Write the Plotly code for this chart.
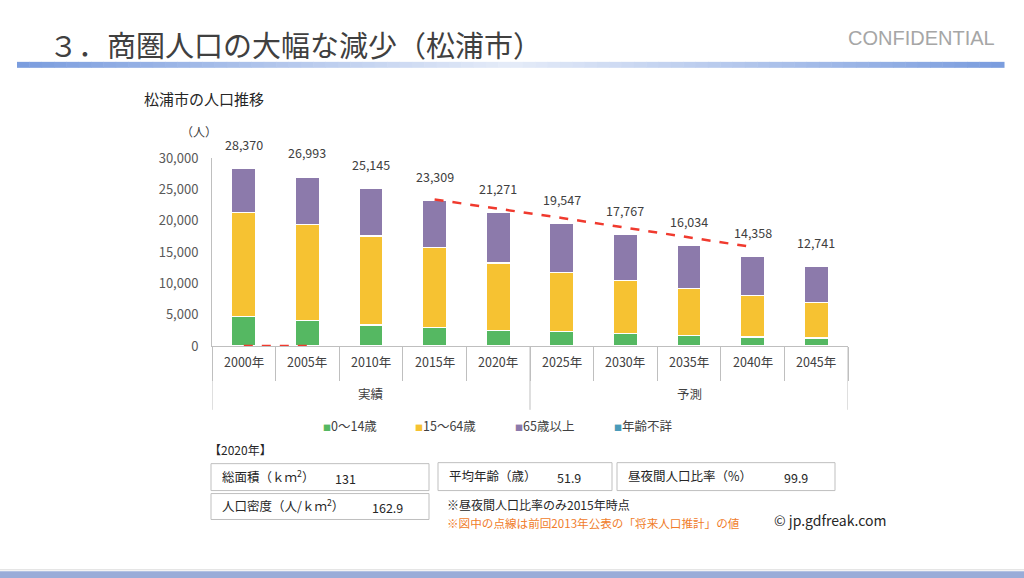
import plotly.graph_objects as go

# 松浦市の人口推移 (人)
years = ["2000年", "2005年", "2010年", "2015年", "2020年",
         "2025年", "2030年", "2035年", "2040年", "2045年"]
groups = ["実績", "予測"]
group_sizes = [5, 5]

age_0_14 = [4670, 4030, 3340, 2960, 2440, 2290, 1970, 1660, 1430, 1270]
age_15_64 = [16700, 15400, 14220, 12740, 10820, 9420, 8450, 7580, 6600, 5740]
age_65_up = [7000, 7560, 7585, 7609, 8000, 7837, 7347, 6794, 6328, 5731]
age_unknown = [0, 0, 0, 0, 11, 0, 0, 0, 0, 0]
totals = [28370, 26993, 25145, 23309, 21271, 19547, 17767, 16034, 14358, 12741]

# 前回2013年公表の「将来人口推計」
prev_estimate = [0, 0, None, 23400, 21950, 20450, 18900, 17350, 15800, None]

series = [
    ("0～14歳", age_0_14, "#55b862"),
    ("15～64歳", age_15_64, "#f6c232"),
    ("65歳以上", age_65_up, "#8c7aab"),
    ("年齢不詳", age_unknown, "#4a9bba"),
]

info_2020 = [("総面積（ｋｍ<sup>2</sup>）", "131"),
             ("人口密度（人/ｋｍ<sup>2</sup>）", "162.9"),
             ("平均年齢（歳）", "51.9"),
             ("昼夜間人口比率（%）", "99.9")]

FONT = "Noto Sans CJK JP, Noto Sans, sans-serif"
W, H = 1024, 596
# the screenshot comes out squeezed a little vertically, so place things
# in page pixels corrected for that
Y_OFF, Y_SCALE = 8, 0.971


def px(x):
    return x / W


def py(y):
    return 1 - ((y - Y_OFF) / Y_SCALE) / H


def label(x, y, text, size=12.5, color="#404040", xanchor="left", **kw):
    return dict(x=px(x), y=py(y), xref="paper", yref="paper", text=text,
                xanchor=xanchor, yanchor="middle", showarrow=False,
                font=dict(size=size, color=color, **kw))


fig = go.Figure()
for name, vals, col in series:
    fig.add_trace(go.Bar(x=years, y=vals, name=name, marker_color=col,
                         marker_line=dict(color="white", width=1.2)))

fig.add_trace(go.Scatter(x=years, y=prev_estimate, mode="lines",
                         line=dict(color="#f03a2e", width=2.5, dash="dash"),
                         connectgaps=False, showlegend=False))

fig.update_layout(
    width=W, height=H,
    margin=dict(l=0, r=0, t=0, b=0),
    barmode="stack", bargap=0.62,
    plot_bgcolor="white", paper_bgcolor="white",
    showlegend=False,
    font=dict(family=FONT, color="#404040"),
    xaxis=dict(domain=[px(212), px(848)], type="category",
               range=[-0.5, len(years) - 0.5],
               showline=True, linecolor="#bfbfbf", linewidth=1,
               ticks="outside", tickson="boundaries", ticklen=34,
               tickcolor="#bfbfbf", showticklabels=False, showgrid=False),
    yaxis=dict(domain=[py(345), py(156.6)], range=[0, 30000],
               dtick=5000, tickformat=",", showgrid=False, zeroline=False,
               showline=True, linecolor="#bfbfbf", linewidth=1,
               ticks="outside", ticklen=10, tickcolor="rgba(0,0,0,0)",
               tickfont=dict(size=13, color="#595959")),
)

annotations = []
# 合計ラベル
for yr, t in zip(years, totals):
    annotations.append(dict(x=yr, y=t, xref="x", yref="y", text=f"{t:,}",
                            showarrow=False, yshift=24, yanchor="middle",
                            font=dict(size=12.5, color="#404040")))
# 年ラベル
for yr in years:
    annotations.append(dict(x=yr, y=py(361), xref="x", yref="paper", text=yr,
                            showarrow=False, yanchor="middle",
                            font=dict(size=12.5, color="#404040")))
# グループラベルと区切り線
shapes = []
start = 0
for g, n in zip(groups, group_sizes):
    annotations.append(dict(x=start + (n - 1) / 2, y=py(393), xref="x", yref="paper",
                            text=g, showarrow=False, yanchor="middle",
                            font=dict(size=12.5, color="#404040")))
    start += n
for b in [-0.5, 4.5, 9.5]:
    shapes.append(dict(type="line", xref="x", yref="paper", x0=b, x1=b,
                       y0=py(345), y1=py(409), line=dict(color="#bfbfbf", width=1)))

# 凡例
leg_x = [321, 413, 513, 612]
for (name, _, col), lx in zip(series, leg_x):
    annotations.append(label(lx, 425,
                             f'<span style="color:{col};font-size:8px">■</span>{name}'))

# タイトル類
annotations += [
    label(47, 42, "３．商圏人口の大幅な減少（松浦市）", size=29),
    label(997, 36, "CONFIDENTIAL", size=20, color="#a6a6a6", xanchor="right",
          family="Liberation Sans, Arial"),
    label(142, 97, "松浦市の人口推移", size=15, color="#262626"),
    label(199, 130, "（人）", size=12, xanchor="center"),
    label(207, 449, "【2020年】", size=12, color="#262626"),
    label(445, 504, "※昼夜間人口比率のみ2015年時点", size=12, color="#262626"),
    label(445, 523, "※図中の点線は前回2013年公表の「将来人口推計」の値", size=11.6,
          color="#f07c2a"),
    label(772, 520, "© jp.gdfreak.com", size=14, color="#262626"),
]

# 2020年の指標ボックス
boxes = [(211, 429, 463, 490, 333), (211, 429, 493, 519, 370),
         (438, 612, 462, 490, 555), (617, 835, 462, 490, 782)]
for (name, val), (x0, x1, y0, y1, vx) in zip(info_2020, boxes):
    shapes.append(dict(type="rect", xref="paper", yref="paper",
                       x0=px(x0), x1=px(x1), y0=py(y0), y1=py(y1),
                       line=dict(color="#bfbfbf", width=1)))
    annotations.append(label(x0 + 9, (y0 + y1) / 2 - 1, name, color="#262626"))
    annotations.append(label(vx, (y0 + y1) / 2 + 1, val, color="#262626"))

# 上部のグラデーション帯
n = 80
for i in range(n):
    x0 = 17 + (1004 - 17) * i / n
    x1 = 17 + (1004 - 17) * (i + 1) / n
    t = abs((i + 0.5) / n - 0.5) * 2
    r = int(230 + (122 - 230) * t)
    g = int(236 + (156 - 236) * t)
    b = int(249 + (222 - 249) * t)
    shapes.append(dict(type="rect", xref="paper", yref="paper",
                       x0=px(x0), x1=px(x1) + 0.0005, y0=py(60), y1=py(66),
                       line=dict(width=0), fillcolor=f"rgb({r},{g},{b})"))

# 下部の帯
shapes.append(dict(type="line", xref="paper", yref="paper", x0=0, x1=1,
                   y0=py(569.5), y1=py(569.5), line=dict(color="#d9d9d9", width=1)))
shapes.append(dict(type="rect", xref="paper", yref="paper", x0=0, x1=1,
                   y0=py(571), y1=py(580), line=dict(width=0), fillcolor="#99acd8"))

fig.update_layout(annotations=annotations, shapes=shapes)

# ページ余白をなくして図を左上に固定
pin = ("document.body.style.margin='0';"
       "var d=document.getElementsByClassName('plotly-graph-div')[0];"
       "d.style.position='fixed';d.style.left='0px';d.style.top='0px';")
fig.write_html("out.html", config={"displayModeBar": False}, post_script=pin)
